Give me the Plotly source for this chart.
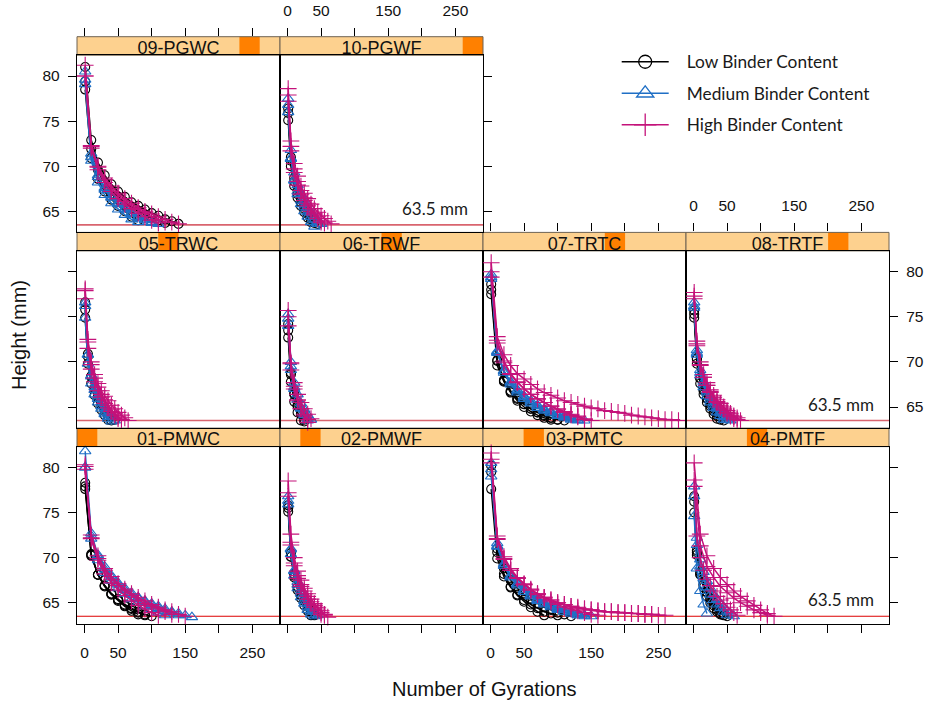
import plotly.graph_objects as go

# ---------------------------------------------------------------------------
# Gyration counts at which the specimen height was sampled
# ---------------------------------------------------------------------------
GYRATIONS = {
    "coarse": [1, 10, 20, 30, 40, 50, 60, 70, 80, 90, 100, 110, 120, 130, 140,
               150, 160, 170, 180, 190, 200, 210, 220, 230, 240, 250, 260, 270, 280],
    "fine": [1, 5, 10, 15, 20, 25, 30, 35, 40, 45, 50, 55, 60, 65, 70, 75, 80],
}

TARGET_HEIGHT = 63.5
X_TICKS = [0, 50, 100, 150, 200, 250]
X_TICK_TEXT = ["0", "50", "", "150", "", "250"]
Y_TICKS = [65, 70, 75, 80]
X_RANGE = [-11.2, 291.2]
Y_RANGE = [62.66, 82.31]

# ---------------------------------------------------------------------------
# Specimen heights (mm), three replicates per binder content
# ---------------------------------------------------------------------------
PMWC01 = {
    "Low": [
        [78.3, 70.4, 68.1, 66.9, 66.0, 65.3, 64.7, 64.3, 63.9, 63.6],
        [77.9, 70.2, 68.1, 66.9, 66.0, 65.4, 64.8, 64.4, 64.0, 63.7, 63.5],
        [77.6, 70.3, 68.1, 66.8, 65.9, 65.2, 64.6, 64.1, 63.7],
    ],
    "Medium": [
        [81.8, 72.7, 70.3, 69.0, 68.0, 67.2, 66.6, 66.1, 65.6, 65.2, 64.9, 64.6, 64.3, 64.0, 63.8, 63.6, 63.4],
        [80.0, 72.4, 70.1, 68.7, 67.8, 67.0, 66.4, 65.9, 65.5, 65.1, 64.7, 64.4, 64.1, 63.9, 63.6],
        [80.0, 72.1, 69.7, 68.3, 67.4, 66.6, 66.0, 65.4, 65.0, 64.6, 64.2, 63.9, 63.6],
    ],
    "High": [
        [80.1, 72.5, 70.2, 68.8, 67.9, 67.1, 66.5, 66.0, 65.6, 65.2, 64.8, 64.5, 64.2, 64.0, 63.7, 63.5],
        [80.3, 72.1, 69.7, 68.2, 67.2, 66.4, 65.8, 65.2, 64.7, 64.3, 63.9, 63.6],
        [79.8, 72.2, 69.9, 68.6, 67.6, 66.9, 66.3, 65.8, 65.3, 64.9, 64.6, 64.3, 64.0, 63.7],
    ],
}

PMWF02 = {
    "Low": [
        [75.5, 70.1, 67.8, 66.4, 65.5, 64.7, 64.1, 63.6],
        [75.1, 70.1, 68.0, 66.7, 65.8, 65.2, 64.6, 64.1, 63.7],
        [75.8, 70.5, 68.2, 66.8, 65.9, 65.2, 64.6, 64.0, 63.6],
    ],
    "Medium": [
        [76.8, 71.0, 68.5, 67.0, 66.0, 65.2, 64.5, 64.0, 63.5],
        [76.3, 70.9, 68.6, 67.3, 66.3, 65.6, 65.0, 64.4, 64.0, 63.6],
        [75.9, 70.4, 68.0, 66.6, 65.6, 64.9, 64.2, 63.7],
    ],
    "High": [
        [78.5, 72.6, 70.0, 68.5, 67.5, 66.6, 66.0, 65.4, 64.9, 64.5, 64.1, 63.7, 63.4],
        [77.2, 71.7, 69.4, 68.0, 67.0, 66.3, 65.7, 65.1, 64.7, 64.3, 63.9, 63.6],
        [76.8, 71.4, 69.1, 67.7, 66.8, 66.0, 65.4, 64.9, 64.5, 64.1, 63.7],
    ],
}

PMTC03 = {
    "Low": [
        [80.2, 70.6, 68.2, 66.8, 65.8, 65.1, 64.5, 64.0, 63.6],
        [77.6, 69.9, 67.9, 66.7, 65.9, 65.3, 64.8, 64.4, 64.0, 63.8, 63.6],
        [79.5, 71.0, 68.8, 67.5, 66.6, 65.9, 65.4, 64.9, 64.5, 64.2, 63.9, 63.7, 63.5],
    ],
    "Medium": [
        [80.5, 71.6, 69.3, 68.0, 67.1, 66.4, 65.8, 65.3, 64.9, 64.6, 64.3, 64.0, 63.8, 63.6, 63.5],
        [79.8, 71.3, 69.1, 67.8, 66.9, 66.2, 65.7, 65.2, 64.8, 64.5, 64.2, 64.0, 63.8, 63.6],
        [79.0, 71.2, 69.1, 67.9, 67.1, 66.4, 65.9, 65.4, 65.0, 64.7, 64.4, 64.2, 64.0, 63.8, 63.6, 63.5],
    ],
    "High": [
        [81.6, 72.4, 70.1, 68.8, 67.8, 67.1, 66.5, 66.0, 65.6, 65.3, 65.0, 64.8, 64.6, 64.4,
         64.3, 64.2, 64.1, 64.0, 64.0, 63.9, 63.9, 63.8, 63.8, 63.7, 63.7, 63.6, 63.6],
        [80.9, 72.1, 69.9, 68.6, 67.7, 67.0, 66.4, 66.0, 65.6, 65.3, 65.0, 64.8, 64.6, 64.5,
         64.3, 64.2, 64.1, 64.0, 64.0, 63.9, 63.9, 63.8, 63.8, 63.7, 63.7],
        [80.5, 72.0, 69.8, 68.6, 67.7, 67.0, 66.4, 65.9, 65.5, 65.1, 64.8, 64.5, 64.3, 64.1, 63.9, 63.7, 63.6],
    ],
}

PMTF04 = {
    "Low": [
        [76.8, 70.6, 68.1, 66.7, 65.7, 65.0, 64.4, 64.0, 63.8, 63.6],
        [75.0, 70.3, 68.2, 67.0, 66.2, 65.5, 65.0, 64.5, 64.2, 63.8, 63.5],
        [76.2, 70.8, 68.4, 67.0, 66.1, 65.3, 64.7, 64.2, 63.7],
    ],
    "Medium": [
        [77.9, 72.2, 69.8, 68.4, 67.4, 66.6, 65.9, 65.4, 64.9, 64.5, 64.1, 63.8, 63.5],
        [76.8, 71.4, 69.0, 67.7, 66.7, 65.9, 65.3, 64.8, 64.4, 64.0, 63.6],
        [74.6, 68.8, 66.3, 64.8, 63.8],
    ],
    "High": [
        [80.5, 72.6, 70.2, 68.8, 67.8, 67.0, 66.3, 65.7, 65.2, 64.7, 64.2, 63.8, 63.5],
        [78.6, 71.3, 69.0, 67.8, 66.8, 66.1, 65.5, 65.0, 64.6, 64.2, 63.9, 63.6],
        [77.9, 72.4, 70.0, 68.6, 67.6, 66.9, 66.3, 65.7, 65.3, 64.9, 64.5, 64.2, 63.9, 63.6],
    ],
}

TRWC05 = {
    "Low": [
        [76.6, 70.9, 68.4, 67.0, 66.0, 65.2, 64.5, 64.0, 63.5],
        [74.9, 69.8, 67.6, 66.3, 65.4, 64.7, 64.1, 63.6],
        [75.8, 70.6, 68.4, 67.1, 66.2, 65.5, 64.9, 64.4, 64.0, 63.6],
    ],
    "Medium": [
        [76.6, 70.8, 68.4, 66.9, 65.9, 65.1, 64.4, 63.9, 63.4],
        [76.2, 70.8, 68.5, 67.2, 66.2, 65.5, 64.9, 64.3, 63.9, 63.5],
        [74.9, 69.8, 67.6, 66.4, 65.5, 64.8, 64.2, 63.7],
    ],
    "High": [
        [78.1, 72.5, 70.0, 68.6, 67.6, 66.8, 66.2, 65.7, 65.2, 64.8, 64.4, 64.1, 63.8, 63.5],
        [77.9, 72.2, 69.7, 68.2, 67.2, 66.4, 65.8, 65.2, 64.7, 64.3, 63.9, 63.6],
        [77.0, 71.5, 69.2, 67.8, 66.8, 66.1, 65.4, 64.9, 64.5, 64.1, 63.7],
    ],
}

TRWF06 = {
    "Low": [
        [74.2, 68.8, 66.5, 65.1, 64.2, 63.4],
        [72.7, 67.8, 65.6, 64.4, 63.5],
        [73.5, 68.6, 66.4, 65.2, 64.3, 63.6],
    ],
    "Medium": [
        [75.3, 70.0, 67.7, 66.4, 65.4, 64.7, 64.1, 63.6],
        [74.8, 69.5, 67.2, 65.8, 64.8, 64.1, 63.5],
        [74.0, 69.1, 67.0, 65.8, 64.9, 64.3, 63.7],
    ],
    "High": [
        [75.7, 69.8, 67.3, 65.8, 64.8, 64.0, 63.3],
        [74.0, 69.1, 67.0, 65.7, 64.8, 64.2, 63.6],
        [75.0, 69.9, 67.7, 66.4, 65.5, 64.8, 64.2, 63.7],
    ],
}

TRTC07 = {
    "Low": [
        [78.6, 70.1, 67.9, 66.6, 65.7, 65.0, 64.5, 64.1, 63.8, 63.6],
        [78.0, 70.2, 68.0, 66.8, 66.0, 65.3, 64.8, 64.4, 64.0, 63.8, 63.6],
        [77.5, 69.6, 67.8, 66.7, 65.9, 65.3, 64.8, 64.4, 64.1, 63.8, 63.6, 63.5],
    ],
    "Medium": [
        [79.7, 71.2, 69.0, 67.7, 66.8, 66.1, 65.5, 65.1, 64.7, 64.4, 64.1, 63.9, 63.7, 63.5],
        [79.4, 71.0, 68.8, 67.5, 66.6, 65.9, 65.4, 64.9, 64.6, 64.3, 64.0, 63.8, 63.6],
        [79.2, 71.1, 69.0, 67.8, 66.9, 66.2, 65.7, 65.2, 64.8, 64.5, 64.2, 64.0, 63.8, 63.6, 63.5],
    ],
    "High": [
        [81.0, 72.8, 70.8, 69.6, 68.7, 68.1, 67.5, 67.0, 66.6, 66.3, 66.0, 65.7, 65.5, 65.3, 65.1,
         64.9, 64.8, 64.6, 64.5, 64.4, 64.3, 64.1, 64.0, 63.9, 63.8, 63.7, 63.6, 63.6, 63.5],
        [79.4, 72.1, 69.9, 68.6, 67.7, 67.0, 66.4, 65.9, 65.5, 65.1, 64.8, 64.5, 64.2, 64.0, 63.7, 63.5],
        [80.0, 72.4, 70.1, 68.7, 67.8, 67.0, 66.4, 65.9, 65.5, 65.1, 64.7, 64.4, 64.1, 63.9, 63.6],
    ],
}

TRTF08 = {
    "Low": [
        [75.7, 70.4, 68.2, 66.8, 65.9, 65.1, 64.5, 64.0, 63.6],
        [74.9, 69.8, 67.6, 66.4, 65.5, 64.8, 64.2, 63.7],
        [75.3, 70.3, 68.2, 66.9, 66.0, 65.3, 64.8, 64.3, 63.9, 63.5],
    ],
    "Medium": [
        [76.6, 71.3, 69.1, 67.8, 66.8, 66.1, 65.5, 65.0, 64.5, 64.2, 63.8, 63.5],
        [76.2, 71.0, 68.8, 67.5, 66.6, 65.8, 65.2, 64.8, 64.3, 63.9, 63.6],
        [76.0, 70.8, 68.5, 67.2, 66.2, 65.5, 64.9, 64.4, 64.0, 63.6],
    ],
    "High": [
        [77.7, 72.3, 70.0, 68.6, 67.7, 66.9, 66.3, 65.8, 65.4, 65.0, 64.6, 64.3, 64.0, 63.8, 63.5],
        [77.0, 71.8, 69.6, 68.3, 67.4, 66.7, 66.1, 65.6, 65.2, 64.8, 64.4, 64.1, 63.9, 63.6],
        [77.3, 72.0, 69.7, 68.3, 67.4, 66.6, 66.0, 65.5, 65.0, 64.7, 64.3, 64.0, 63.7],
    ],
}

PGWC09 = {
    "Low": [
        [81.0, 72.9, 70.4, 69.0, 68.0, 67.2, 66.6, 66.0, 65.6, 65.2, 64.8, 64.5, 64.1, 63.9, 63.6],
        [79.4, 71.9, 69.6, 68.2, 67.3, 66.6, 66.0, 65.5, 65.0, 64.6, 64.3, 64.0, 63.7],
        [78.5, 70.9, 68.6, 67.2, 66.3, 65.6, 65.0, 64.4, 64.0],
    ],
    "Medium": [
        [80.5, 71.4, 69.0, 67.6, 66.6, 65.9, 65.3, 64.8, 64.4, 64.1, 63.8, 63.6],
        [79.6, 71.0, 68.8, 67.4, 66.5, 65.8, 65.2, 64.7, 64.3, 64.0, 63.7],
        [79.1, 70.6, 68.2, 66.8, 65.9, 65.2, 64.6, 64.1, 63.8],
    ],
    "High": [
        [81.2, 72.3, 70.0, 68.7, 67.8, 67.0, 66.4, 65.9, 65.4, 65.0, 64.7, 64.4, 64.1, 63.8, 63.6],
        [80.0, 72.0, 69.6, 68.2, 67.2, 66.4, 65.8, 65.3, 64.8, 64.4, 64.0, 63.7],
        [80.0, 72.2, 69.9, 68.5, 67.5, 66.8, 66.1, 65.6, 65.2, 64.8, 64.4, 64.1, 63.8],
    ],
}

PGWF10 = {
    "Low": [
        [75.1, 70.0, 67.8, 66.5, 65.6, 64.9, 64.3, 63.8],
        [75.9, 70.6, 68.3, 66.9, 66.0, 65.3, 64.7, 64.1, 63.7],
        [76.4, 71.0, 68.7, 67.3, 66.3, 65.6, 65.0, 64.4, 64.0, 63.6],
    ],
    "Medium": [
        [77.5, 71.8, 69.3, 67.9, 66.9, 66.1, 65.4, 64.9, 64.4, 64.0, 63.6],
        [76.8, 70.9, 68.4, 66.9, 65.8, 65.0, 64.4, 63.8, 63.3],
        [76.0, 70.8, 68.5, 67.2, 66.2, 65.5, 64.9, 64.4, 64.0, 63.6],
    ],
    "High": [
        [78.6, 72.8, 70.3, 68.9, 67.8, 67.0, 66.4, 65.8, 65.3, 64.9, 64.5, 64.2, 63.9, 63.6],
        [77.9, 72.2, 69.7, 68.3, 67.3, 66.5, 65.9, 65.3, 64.8, 64.4, 64.0, 63.7],
        [77.2, 71.7, 69.3, 67.9, 66.9, 66.2, 65.6, 65.0, 64.6, 64.2, 63.8],
    ],
}

PANEL_DATA = {
    "01-PMWC": PMWC01, "02-PMWF": PMWF02, "03-PMTC": PMTC03, "04-PMTF": PMTF04,
    "05-TRWC": TRWC05, "06-TRWF": TRWF06, "07-TRTC": TRTC07, "08-TRTF": TRTF08,
    "09-PGWC": PGWC09, "10-PGWF": PGWF10,
}
PANEL_GRID = {
    "01-PMWC": "coarse", "02-PMWF": "fine", "03-PMTC": "coarse", "04-PMTF": "fine",
    "05-TRWC": "fine", "06-TRWF": "fine", "07-TRTC": "coarse", "08-TRTF": "fine",
    "09-PGWC": "coarse", "10-PGWF": "fine",
}
# replicates logged on the coarse schedule inside an otherwise fine panel
CURVE_GRID = {("04-PMTF", "High", 0): "coarse", ("04-PMTF", "High", 1): "coarse"}

# (column, row) with row 0 at the bottom
PANEL_POS = {
    "01-PMWC": (0, 0), "02-PMWF": (1, 0), "03-PMTC": (2, 0), "04-PMTF": (3, 0),
    "05-TRWC": (0, 1), "06-TRWF": (1, 1), "07-TRTC": (2, 1), "08-TRTF": (3, 1),
    "09-PGWC": (0, 2), "10-PGWF": (1, 2),
}
RIGHTMOST = {0: 3, 1: 3, 2: 1}

GROUPS = ["Low", "Medium", "High"]
STYLE = {
    "Low": dict(name="Low Binder Content", color="#000000", symbol="circle-open",
                size=9, key_size=13),
    "Medium": dict(name="Medium Binder Content", color="#1f6fc5", symbol="triangle-up-open",
                   size=10, key_size=15),
    "High": dict(name="High Binder Content", color="#c4127a", symbol="cross-thin-open",
                 size=12, key_size=16),
}

# ---------------------------------------------------------------------------
# Page geometry (pixels)
# ---------------------------------------------------------------------------
W, H = 927, 702
COL_LEFT = [77, 280, 483, 686]
PANEL_W = 203
STRIP_H = 18.5
PANEL_H = 177.2
TOP = 36.7

STRIP_LIGHT = "#fdd18f"
STRIP_DARK = "#ff8000"
SANS = "Liberation Sans, Arial, sans-serif"
AXIS_FONT = dict(family=SANS, size=15.5, color="#111111")
TEXT_FONT = "Lato, Carlito, sans-serif"


def fx(px):
    return px / W


def fy(py):
    return 1 - py / H


def sfx(k):
    return "" if k == 1 else str(k)


def strip_top(row):
    return TOP + (2 - row) * (STRIP_H + PANEL_H)


fig = go.Figure()
layout = dict(
    width=W, height=H, autosize=False,
    margin=dict(l=0, r=0, t=0, b=0),
    paper_bgcolor="white", plot_bgcolor="rgba(0,0,0,0)",
    hovermode=False,
    showlegend=True,
)
shapes = []
annotations = []

names = list(PANEL_DATA.keys())
n_panels = len(names)

# legend keys (drawn only in the legend)
for g in GROUPS:
    st_ = STYLE[g]
    fig.add_trace(go.Scatter(
        x=[None], y=[None], mode="lines+markers",
        name="\u2002\u00a0" + st_["name"], legendgroup=g, showlegend=True,
        line=dict(color=st_["color"], width=1.3),
        marker=dict(symbol=st_["symbol"], size=st_["key_size"], color=st_["color"],
                    line=dict(color=st_["color"], width=1.3)),
    ))

for k, panel in enumerate(names, start=1):
    col, row = PANEL_POS[panel]
    left = COL_LEFT[col]
    st = strip_top(row)
    p_top = st + STRIP_H
    p_bot = p_top + PANEL_H
    s = sfx(k)
    ks = n_panels + k  # strip subplot index

    # ---- panel axes ----
    bottom_row = row == 0
    layout["xaxis" + s] = dict(
        domain=[fx(left), fx(left + PANEL_W)], anchor="y" + s,
        range=X_RANGE, showgrid=False, zeroline=False,
        showline=True, mirror=True, linecolor="black", linewidth=1.3,
        tickvals=X_TICKS, ticktext=X_TICK_TEXT,
        ticks="outside" if bottom_row else "", ticklen=8, tickwidth=1, tickcolor="black",
        showticklabels=bottom_row and col in (0, 2), tickfont=AXIS_FONT,
        ticklabelstandoff=6,
    )
    is_left = col == 0
    is_right = col == RIGHTMOST[row]
    y_labels = (is_left and row in (0, 2)) or (is_right and row == 1)
    layout["yaxis" + s] = dict(
        domain=[fy(p_bot), fy(p_top)], anchor="x" + s,
        range=Y_RANGE, showgrid=False, zeroline=False,
        showline=True, mirror=True, linecolor="black", linewidth=1.3,
        side="right" if is_right else "left",
        tickvals=Y_TICKS,
        ticks="outside" if (is_left or is_right) else "", ticklen=8, tickwidth=1, tickcolor="black",
        showticklabels=y_labels, tickfont=AXIS_FONT, ticklabelstandoff=5,
    )

    # ---- strip axes (also carry the top tick marks where exposed) ----
    exposed_top = row == 2 or (row == 1 and col >= 2)
    layout["xaxis%d" % ks] = dict(
        domain=[fx(left), fx(left + PANEL_W)], anchor="y%d" % ks,
        range=X_RANGE, side="top", showgrid=False, zeroline=False, showline=False,
        tickvals=X_TICKS, ticktext=X_TICK_TEXT,
        ticks="outside" if exposed_top else "", ticklen=8, tickwidth=1, tickcolor="black",
        showticklabels=exposed_top and col in (1, 3), tickfont=AXIS_FONT,
        ticklabelstandoff=6, fixedrange=True,
    )
    layout["yaxis%d" % ks] = dict(
        domain=[fy(p_top), fy(st)], anchor="x%d" % ks,
        range=[0, 1], visible=False, fixedrange=True,
    )

    # strip background, level marker and frame
    level = k - 1
    shapes.append(dict(type="rect", xref="paper", yref="paper", layer="below",
                       x0=fx(left), x1=fx(left + PANEL_W), y0=fy(p_top), y1=fy(st),
                       fillcolor=STRIP_LIGHT, line=dict(width=0)))
    shapes.append(dict(type="rect", xref="paper", yref="paper", layer="below",
                       x0=fx(left + PANEL_W * level / n_panels),
                       x1=fx(left + PANEL_W * (level + 1) / n_panels),
                       y0=fy(p_top), y1=fy(st),
                       fillcolor=STRIP_DARK, line=dict(width=0)))
    shapes.append(dict(type="rect", xref="paper", yref="paper", layer="below",
                       x0=fx(left), x1=fx(left + PANEL_W), y0=fy(p_top), y1=fy(st),
                       fillcolor="rgba(0,0,0,0)", line=dict(width=1, color="#6e6353")))

    fig.add_trace(go.Scatter(
        x=[(X_RANGE[0] + X_RANGE[1]) / 2], y=[0.316], mode="text", text=[panel],
        textposition="middle center", cliponaxis=True,
        textfont=dict(family=SANS, size=18, color="#111111"),
        xaxis="x%d" % ks, yaxis="y%d" % ks, showlegend=False, hoverinfo="skip",
    ))

    # ---- target height reference line ----
    shapes.append(dict(type="line", xref="x%s domain" % s, yref="y" + s,
                       x0=0, x1=1, y0=TARGET_HEIGHT, y1=TARGET_HEIGHT, layer="below",
                       line=dict(color="#dd0000" if row == 0 else "#d9646e",
                                 width=1.1 if row == 0 else 1.6)))
    if is_right:
        annotations.append(dict(
            xref="x%s domain" % s, yref="y" + s, x=0.937, y=TARGET_HEIGHT,
            xanchor="right", yanchor="bottom", yshift=4, showarrow=False,
            text="%.1f mm" % TARGET_HEIGHT,
            font=dict(family=TEXT_FONT, size=17, color="#1a1a1a"),
        ))

    # ---- compaction curves ----
    data = PANEL_DATA[panel]
    for g in GROUPS:
        st_ = STYLE[g]
        for i, heights in enumerate(data[g]):
            grid = CURVE_GRID.get((panel, g, i), PANEL_GRID[panel])
            gyr = GYRATIONS[grid][:len(heights)]
            fig.add_trace(go.Scatter(
                x=gyr, y=heights, mode="lines+markers",
                xaxis="x" + s, yaxis="y" + s,
                name=st_["name"], legendgroup=g, showlegend=False,
                line=dict(color=st_["color"], width=1.5),
                marker=dict(symbol=st_["symbol"], size=st_["size"], color=st_["color"],
                            line=dict(color=st_["color"], width=1.1)),
                cliponaxis=False,
            ))

annotations.append(dict(
    xref="paper", yref="paper", x=fx(485), y=fy(689), showarrow=False,
    text="Number of Gyrations", xanchor="center", yanchor="middle",
    font=dict(family=SANS, size=20, color="#111111"),
))
annotations.append(dict(
    xref="paper", yref="paper", x=fx(19), y=fy(335), showarrow=False,
    text="Height (mm)", textangle=-90, xanchor="center", yanchor="middle",
    font=dict(family=SANS, size=20, color="#111111"),
))

layout["shapes"] = shapes
layout["annotations"] = annotations
layout["legend"] = dict(
    x=fx(616.7), y=fy(44), xanchor="left", yanchor="top",
    font=dict(family=TEXT_FONT, size=17.3, color="#1a1a1a"),
    bgcolor="rgba(0,0,0,0)", borderwidth=0,
    traceorder="grouped", tracegroupgap=6, itemwidth=47,
)

fig.update_layout(**layout)
fig.write_html("out.html")
